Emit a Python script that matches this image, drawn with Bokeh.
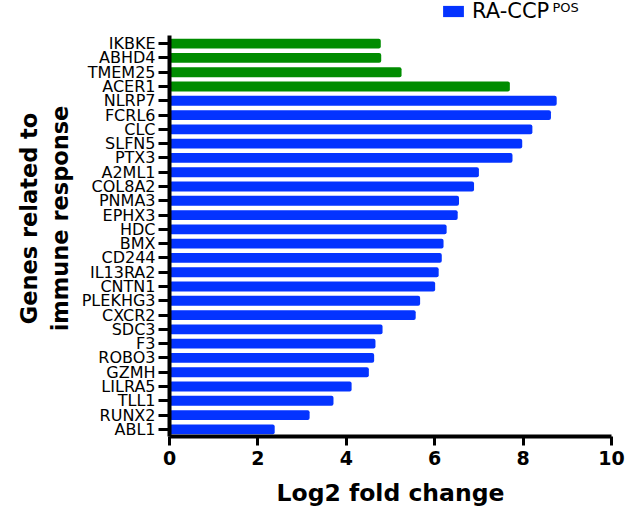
from bokeh.plotting import figure
from bokeh.models import (Range1d, Legend, LegendItem, Label,
                          FixedTicker, ColumnDataSource)
from bokeh.embed import file_html
from bokeh.resources import INLINE

# ---- data (top to bottom as shown) ----
genes = ["IKBKE", "ABHD4", "TMEM25", "ACER1", "NLRP7", "FCRL6", "CLC", "SLFN5",
         "PTX3", "A2ML1", "COL8A2", "PNMA3", "EPHX3", "HDC", "BMX", "CD244",
         "IL13RA2", "CNTN1", "PLEKHG3", "CXCR2", "SDC3", "F3", "ROBO3", "GZMH",
         "LILRA5", "TLL1", "RUNX2", "ABL1"]
log2fc = [4.78, 4.79, 5.25, 7.70, 8.76, 8.63, 8.21, 7.98,
          7.76, 7.00, 6.89, 6.55, 6.52, 6.27, 6.20, 6.16,
          6.09, 6.01, 5.67, 5.57, 4.82, 4.66, 4.63, 4.51,
          4.12, 3.71, 3.17, 2.38]
groups = ["green"] * 4 + ["pos"] * 24
x_ticks = [0, 2, 4, 6, 8, 10]
legend_label = "RA-CCP"
legend_sup = "POS"

GREEN = "#008C00"
BLUE = "#0433FF"

n = len(genes)
ypos = [n - 1 - i for i in range(n)]          # row index, top row highest

def subset(key):
    idx = [i for i, k in enumerate(groups) if k == key]
    return ColumnDataSource(dict(y=[ypos[i] for i in idx],
                                 fc=[log2fc[i] for i in idx],
                                 gene=[genes[i] for i in idx]))

green_src = subset("green")
blue_src = subset("pos")

# frame spans the full height above the x axis so the legend is not clipped;
# the y axis line is bounded to the rows
row_px = 400.0 / n
top_extra = 36.0 / row_px
p = figure(width=627, height=509,
           y_range=Range1d(-0.5, n - 0.5 + top_extra),
           x_range=Range1d(0, 10),
           output_backend="svg", toolbar_location=None,
           min_border_left=169, min_border_right=16,
           min_border_top=0, min_border_bottom=73)

p.hbar(y="y", left=0, right="fc", height=0.69, source=green_src,
       fill_color=GREEN, line_color=None, border_radius=2)
blue_r = p.hbar(y="y", left=0, right="fc", height=0.69, source=blue_src,
                fill_color=BLUE, line_color=None, border_radius=2)

p.xgrid.visible = False
p.ygrid.visible = False
p.outline_line_color = None
p.background_fill_color = "white"
p.border_fill_color = "white"

FONT = "DejaVu Sans"

xa = p.xaxis[0]
xa.ticker = FixedTicker(ticks=x_ticks)
xa.axis_line_width = 4
xa.axis_line_color = "black"
xa.major_tick_line_width = 3
xa.major_tick_line_color = "black"
xa.major_tick_out = 9
xa.major_tick_in = 0
xa.minor_tick_out = 0
xa.minor_tick_in = 0
xa.major_label_text_font = FONT
xa.major_label_text_font_style = "bold"
xa.major_label_text_font_size = "19px"
xa.major_label_text_color = "black"
xa.major_label_standoff = 5
xa.axis_label = "Log2 fold change"
xa.axis_label_text_font = FONT
xa.axis_label_text_font_style = "bold"
xa.axis_label_text_font_size = "23.5px"
xa.axis_label_text_color = "black"
xa.axis_label_standoff = 11

ya = p.yaxis[0]
ya.ticker = FixedTicker(ticks=ypos)
ya.major_label_overrides = {y: g for y, g in zip(ypos, genes)}
ya.bounds = (-0.5, n - 0.5 + 0.08)
ya.axis_line_width = 4
ya.axis_line_color = "black"
ya.major_tick_line_width = 3
ya.major_tick_line_color = "black"
ya.major_tick_out = 11
ya.major_tick_in = 0
ya.minor_tick_out = 0
ya.minor_tick_in = 0
ya.major_label_text_font = FONT
ya.major_label_text_font_size = "16px"
ya.major_label_text_color = "black"
ya.major_label_standoff = 3
ya.axis_label = "Genes related to\nimmune response"
ya.axis_label_text_font = FONT
ya.axis_label_text_font_style = "bold"
ya.axis_label_text_font_size = "22.5px"
ya.axis_label_text_color = "black"
ya.axis_label_standoff = 6

legend = Legend(items=[LegendItem(label=legend_label, renderers=[blue_r])],
                location=(271, 413), orientation="horizontal",
                glyph_width=26, glyph_height=14, label_standoff=6,
                padding=0, margin=0, spacing=0,
                border_line_color=None, background_fill_alpha=0,
                label_text_font=FONT, label_text_font_size="21px",
                label_text_color="black")
p.add_layout(legend)

p.add_layout(Label(x=383, y=437, x_units="screen", y_units="screen",
                   text=legend_sup, text_font=FONT, text_font_size="13px",
                   text_color="black", text_baseline="top"))

open("out.html", "w").write(file_html(p, INLINE))
